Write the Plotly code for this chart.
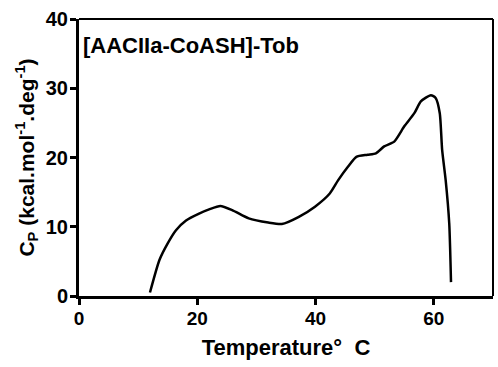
import plotly.graph_objects as go

temperature = [12.0, 13.6, 15.0, 16.4, 18.1, 20.3, 22.0, 23.9, 25.9, 28.7, 32.0, 34.3, 37.1, 39.9,
               42.4, 43.8, 45.5, 46.9, 48.8, 50.2, 51.6, 53.3, 55.0, 56.7, 57.8, 59.5, 60.3,
               61.0, 61.4, 62.0, 62.6, 62.9]
cp = [0.5, 5.2, 7.6, 9.5, 10.9, 11.9, 12.5, 13.0, 12.4, 11.2, 10.6, 10.4, 11.4, 12.9,
      14.8, 16.7, 18.7, 20.1, 20.4, 20.6, 21.6, 22.3, 24.5, 26.4, 28.1, 29.0, 28.6,
      26.4, 21.1, 16.7, 10.5, 2.0]

x_ticks = [0, 20, 40, 60]
y_ticks = [0, 10, 20, 30, 40]
label = "[AACIIa-CoASH]-Tob"

FONT = "Liberation Sans, Arial, sans-serif"

fig = go.Figure()
fig.add_trace(go.Scatter(x=temperature, y=cp, mode="lines",
                         line=dict(color="black", width=2.5, shape="spline", smoothing=0.6),
                         showlegend=False))

fig.update_layout(
    width=498, height=367,
    margin=dict(l=79, r=5, t=19, b=71),
    paper_bgcolor="white", plot_bgcolor="white",
    font=dict(family=FONT, color="black"),
    xaxis=dict(range=[0, 70], tickvals=x_ticks, showgrid=False, zeroline=False,
               showline=True, linecolor="black", linewidth=3,
               ticks="outside", ticklen=6, tickwidth=3, tickcolor="black",
               ticklabelstandoff=-3,
               tickfont=dict(size=19, family=FONT, weight="bold"),
               title=dict(text="<b>Temperature°  C</b>", font=dict(size=22, family=FONT), standoff=12)),
    yaxis=dict(range=[0, 40], tickvals=y_ticks, showgrid=False, zeroline=False,
               showline=True, linecolor="black", linewidth=3,
               ticks="outside", ticklen=6, tickwidth=3, tickcolor="black",
               ticklabelstandoff=-2,
               tickfont=dict(size=20, family=FONT, weight="bold"),
               title=dict(text="<b>C<sub>P</sub> (kcal.mol<sup>-1</sup>.deg<sup>-1</sup>)</b>",
                          font=dict(size=21, family=FONT), standoff=6)),
    annotations=[dict(text="<b>" + label + "</b>", x=0.005, y=0.905, xref="paper", yref="paper",
                      xanchor="left", yanchor="middle", showarrow=False,
                      font=dict(size=22, family=FONT, color="black"))],
    shapes=[
        dict(type="line", xref="paper", yref="paper", x0=0, x1=1, y0=1, y1=1,
             line=dict(color="black", width=2)),
        dict(type="line", xref="paper", yref="paper", x0=1, x1=1, y0=0, y1=1,
             line=dict(color="black", width=2)),
    ],
)

fig.write_html("out.html")
